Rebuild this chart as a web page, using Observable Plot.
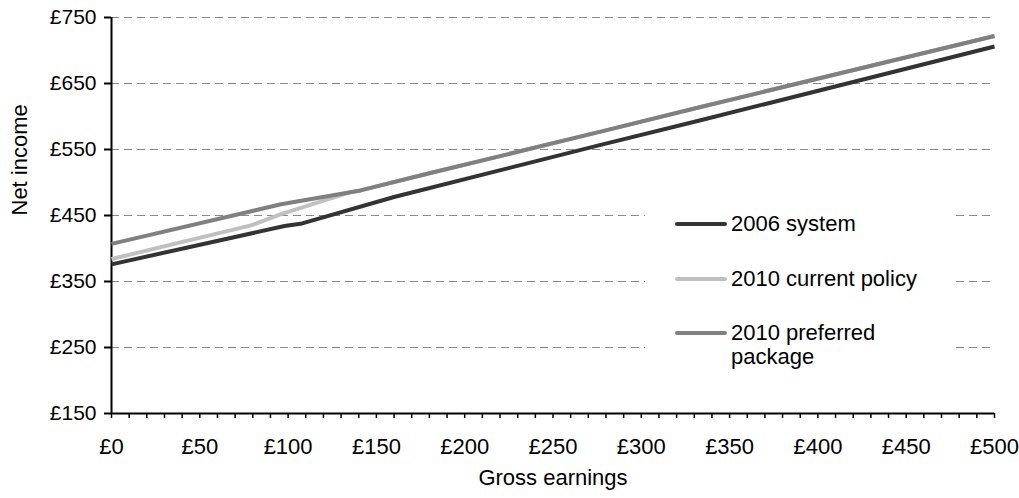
<!DOCTYPE html>
<html>
<head>
<meta charset="utf-8">
<script src="https://cdn.jsdelivr.net/npm/d3@7"></script>
<script src="https://cdn.jsdelivr.net/npm/@observablehq/plot@0.6"></script>
<style>
  html, body { margin: 0; padding: 0; background: #fff; }
  #wrap { position: relative; width: 1019px; height: 498px; font-family: "Liberation Sans", Arial, sans-serif; }
  #wrap svg { display: block; }
  #legend { position: absolute; left: 645px; top: 190px; width: 308px; height: 185px; background: #fff; }
  .sw { position: absolute; left: 30px; width: 52px; height: 4px; border-radius: 2px; }
  .lt { position: absolute; left: 86px; font-size: 22px; line-height: 24px; color: #000; white-space: nowrap; }
</style>
</head>
<body>
<div id="wrap"></div>
<script>
// ---- data ----
const seriesNames = ["2006 system", "2010 current policy", "2010 preferred package"];
const seriesColors = ["#333333", "#c0c0c0", "#808080"];

const earnings2006 = [0, 98, 108, 160, 277, 333, 500];
const net2006      = [376, 434, 438, 478, 557, 594, 706];

const earningsCurrent = [0, 79, 96, 135, 141, 180, 277, 333, 500];
const netCurrent      = [384, 435, 452, 485, 488, 514, 577, 614, 722];

const earningsPreferred = [0, 96, 141, 180, 277, 333, 500];
const netPreferred      = [407, 467, 488, 514, 577, 614, 722];

const yTicks = [150, 250, 350, 450, 550, 650, 750];
const yGrid = [250, 350, 450, 550, 650, 750];
const xTicks = [0, 50, 100, 150, 200, 250, 300, 350, 400, 450, 500];
const xMinorTicks = d3.range(0, 501, 10);

// ---- build table ----
const rows = [];
earnings2006.forEach((x, i) => rows.push({series: seriesNames[0], x, y: net2006[i]}));
earningsCurrent.forEach((x, i) => rows.push({series: seriesNames[1], x, y: netCurrent[i]}));
earningsPreferred.forEach((x, i) => rows.push({series: seriesNames[2], x, y: netPreferred[i]}));

const fontFamily = '"Liberation Sans", Arial, sans-serif';

const chart = Plot.plot({
  width: 1019,
  height: 498,
  marginLeft: 111,
  marginRight: 25,
  marginTop: 17,
  marginBottom: 85,
  style: {fontFamily, color: "#000", background: "#fff"},
  x: {domain: [0, 500], label: null},
  y: {domain: [150, 750], label: null},
  color: {domain: seriesNames, range: seriesColors},
  marks: [
    Plot.gridY(yGrid, {stroke: "#8a8a8a", strokeOpacity: 1, strokeWidth: 1, strokeDasharray: "8,5"}),
    Plot.axisY(yTicks, {tickSize: 7, tickPadding: 8, tickFormat: d => "£" + d, fontSize: 21, strokeWidth: 2, label: null}),
    Plot.axisX(xMinorTicks, {tickSize: 5, tickFormat: () => "", strokeWidth: 1.5, label: null}),
    Plot.axisX(xTicks, {tickSize: 0, tickPadding: 25, tickFormat: d => "£" + d, fontSize: 22, label: null}),
    Plot.ruleX([0], {stroke: "#000", strokeWidth: 2}),
    Plot.ruleY([150], {stroke: "#000", strokeWidth: 2}),
    Plot.line(rows, {x: "x", y: "y", z: "series", stroke: "series", strokeWidth: 4, strokeLinejoin: "round", strokeLinecap: "butt"}),
    Plot.text(["Net income"], {frameAnchor: "left", dx: -92, rotate: -90, fontSize: 22, fill: "#000"}),
    Plot.text(["Gross earnings"], {frameAnchor: "bottom", dy: 71, fontSize: 22, fill: "#000"})
  ]
});

const wrap = document.getElementById("wrap");
wrap.appendChild(chart);

// legend (HTML overlay)
const legend = document.createElement("div");
legend.id = "legend";
const tops = [22, 77, 131];
const labels = ["2006 system", "2010 current policy", "2010 preferred<br>package"];
seriesNames.forEach((name, i) => {
  const sw = document.createElement("div");
  sw.className = "sw";
  sw.style.top = (tops[i] + 10) + "px";
  sw.style.background = seriesColors[i];
  legend.appendChild(sw);
  const t = document.createElement("div");
  t.className = "lt";
  t.style.top = tops[i] + "px";
  t.innerHTML = labels[i];
  legend.appendChild(t);
});
wrap.appendChild(legend);
</script>
</body>
</html>
